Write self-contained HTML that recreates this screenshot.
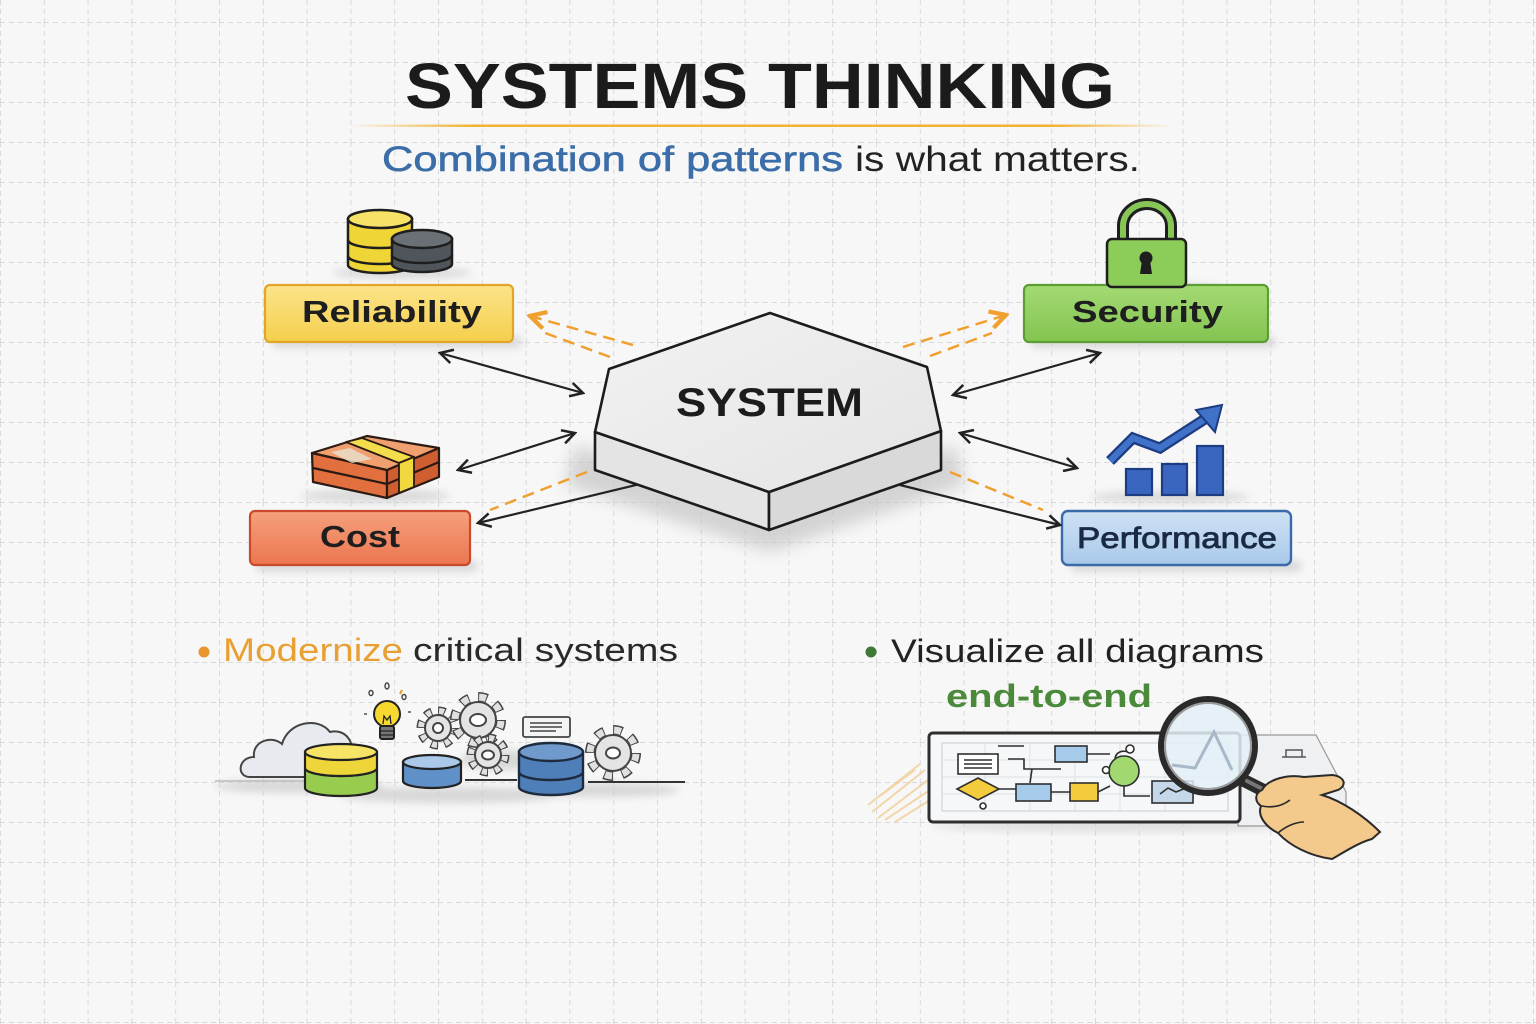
<!DOCTYPE html>
<html><head><meta charset="utf-8"><style>
html,body{margin:0;padding:0;background:#f7f7f7;}
svg{display:block;}
text{font-family:"Liberation Sans",Arial,sans-serif;}
</style></head><body>
<svg width="1536" height="1024" viewBox="0 0 1536 1024" xmlns="http://www.w3.org/2000/svg">
<defs>
  <pattern id="grid" x="0" y="22" width="43.8" height="40" patternUnits="userSpaceOnUse">
    <line x1="0.5" y1="0" x2="0.5" y2="40" stroke="#d9d9d9" stroke-width="1" stroke-dasharray="5 4"/>
    <line x1="0" y1="0.5" x2="43.8" y2="0.5" stroke="#d9d9d9" stroke-width="1" stroke-dasharray="5 4"/>
  </pattern>
  <linearGradient id="uline" x1="0" x2="1" y1="0" y2="0">
    <stop offset="0" stop-color="#f2b232" stop-opacity="0"/>
    <stop offset="0.15" stop-color="#f2b232"/>
    <stop offset="0.85" stop-color="#f2b232"/>
    <stop offset="1" stop-color="#f2b232" stop-opacity="0"/>
  </linearGradient>
  <linearGradient id="gY" x1="0" x2="0" y1="0" y2="1"><stop offset="0" stop-color="#fbe48a"/><stop offset="1" stop-color="#f5cf4c"/></linearGradient>
  <linearGradient id="gG" x1="0" x2="0" y1="0" y2="1"><stop offset="0" stop-color="#a4da74"/><stop offset="1" stop-color="#84c450"/></linearGradient>
  <linearGradient id="gR" x1="0" x2="0" y1="0" y2="1"><stop offset="0" stop-color="#f5a07c"/><stop offset="1" stop-color="#ec7650"/></linearGradient>
  <linearGradient id="gB" x1="0" x2="0" y1="0" y2="1"><stop offset="0" stop-color="#cfe2f5"/><stop offset="1" stop-color="#a9c9ea"/></linearGradient>
  <linearGradient id="hexTop" x1="0" x2="1" y1="0" y2="1"><stop offset="0" stop-color="#f2f2f2"/><stop offset="1" stop-color="#e4e4e4"/></linearGradient>
  <filter id="blur8" x="-30%" y="-30%" width="160%" height="160%"><feGaussianBlur stdDeviation="8"/></filter>
  <filter id="blur4" x="-30%" y="-30%" width="160%" height="160%"><feGaussianBlur stdDeviation="4"/></filter>
  <marker id="ah" viewBox="0 0 14 14" refX="12" refY="7" markerWidth="16" markerHeight="16" markerUnits="userSpaceOnUse" orient="auto-start-reverse">
    <path d="M1,1 L12,7 L1,13" fill="none" stroke="#222" stroke-width="2.2" stroke-linejoin="miter"/>
  </marker>
  <marker id="ao" viewBox="0 0 14 14" refX="12" refY="7" markerWidth="20" markerHeight="20" markerUnits="userSpaceOnUse" orient="auto">
    <path d="M1,1 L12,7 L1,13" fill="none" stroke="#f0a030" stroke-width="3"/>
  </marker>
</defs>

<rect width="1536" height="1024" fill="#f7f7f7"/>
<rect width="1536" height="1024" fill="url(#grid)"/>

<!-- Title -->
<text x="405" y="108" font-size="64" font-weight="bold" fill="#1b1b1b" textLength="710" lengthAdjust="spacingAndGlyphs">SYSTEMS THINKING</text>
<rect x="350" y="124.5" width="825" height="2.5" fill="url(#uline)"/>
<text x="382" y="171" font-size="35" fill="#3b6ea9" stroke="#3b6ea9" stroke-width="0.6" textLength="461" lengthAdjust="spacingAndGlyphs">Combination of patterns</text>
<text x="855" y="171" font-size="35" fill="#222" textLength="285" lengthAdjust="spacingAndGlyphs">is what matters.</text>

<!-- Box shadows -->
<g filter="url(#blur4)" fill="#cfcfcf" opacity="0.7">
  <rect x="272" y="336" width="250" height="12" rx="6"/>
  <rect x="1030" y="336" width="246" height="12" rx="6"/>
  <rect x="256" y="560" width="222" height="12" rx="6"/>
  <rect x="1070" y="560" width="232" height="12" rx="6"/>
  <ellipse cx="402" cy="273" rx="70" ry="6"/>
  <ellipse cx="1165" cy="288" rx="60" ry="5"/>
  <ellipse cx="375" cy="496" rx="75" ry="7"/>
  <ellipse cx="1170" cy="497" rx="80" ry="6"/>
</g>

<!-- Boxes -->
<rect x="265" y="285" width="248" height="57" rx="5" fill="url(#gY)" stroke="#e2a52a" stroke-width="2.2"/>
<rect x="1024" y="285" width="244" height="57" rx="5" fill="url(#gG)" stroke="#5b9e33" stroke-width="2.2"/>
<rect x="250" y="511" width="220" height="54" rx="5" fill="url(#gR)" stroke="#c94a2a" stroke-width="2.2"/>
<rect x="1062" y="511" width="229" height="54" rx="6" fill="url(#gB)" stroke="#3a6aa8" stroke-width="2.4"/>

<text x="302" y="322" font-size="31" font-weight="bold" fill="#1e1e1e" textLength="180" lengthAdjust="spacingAndGlyphs">Reliability</text>
<text x="1072" y="322" font-size="31" font-weight="bold" fill="#1e1e1e" textLength="151" lengthAdjust="spacingAndGlyphs">Security</text>
<text x="320" y="547" font-size="31" font-weight="bold" fill="#1e1e1e" textLength="80" lengthAdjust="spacingAndGlyphs">Cost</text>
<text x="1077" y="548" font-size="30" fill="#1b2a44" stroke="#1b2a44" stroke-width="0.8" textLength="200" lengthAdjust="spacingAndGlyphs">Performance</text>

<!-- Database icons (Reliability) -->
<g stroke="#1e1e1e" stroke-width="2.5">
  <path d="M348,219 L348,265 A32,8 0 0 0 412,265 L412,219 Z" fill="#f0d536"/>
  <path d="M348,240 A32,8 0 0 0 412,240" fill="none"/>
  <path d="M348,256 A32,8 0 0 0 412,256" fill="none"/>
  <ellipse cx="380" cy="219" rx="32" ry="9" fill="#f6e266"/>
  <path d="M392,239 L392,264 A30,8 0 0 0 452,264 L452,239 Z" fill="#50555b"/>
  <path d="M392,255 A30,8 0 0 0 452,255" fill="none"/>
  <ellipse cx="422" cy="239" rx="30" ry="9" fill="#6b7077"/>
</g>

<!-- Lock -->
<path d="M1123,241 L1123,226 A24,22 0 0 1 1171,226 L1171,241" fill="none" stroke="#1e1e1e" stroke-width="12"/>
<path d="M1123,241 L1123,226 A24,22 0 0 1 1171,226 L1171,241" fill="none" stroke="#86c656" stroke-width="6"/>
<rect x="1107" y="239" width="79" height="48" rx="5" fill="#8ccc58" stroke="#1e1e1e" stroke-width="2.5"/>
<circle cx="1146" cy="258" r="6.5" fill="#1e1e1e"/>
<path d="M1142,260 L1150,260 L1152,274 L1140,274 Z" fill="#1e1e1e"/>

<!-- Money stack -->
<g stroke="#2a1a14" stroke-width="2.2" stroke-linejoin="round">
  <polygon points="312,453 387,470 387,498 313,482" fill="#e2703e"/>
  <polygon points="387,470 439,448 439,477 387,498" fill="#cf5e30"/>
  <polygon points="312,453 367,436 439,448 387,470" fill="#f0a06e"/>
  <path d="M313,468 L387,484 L439,462" fill="none"/>
  <polygon points="346,442 362,438 414,457 399,463" fill="#f3dd4c" stroke-width="1.8"/>
  <polygon points="399,463 414,457 414,487 399,493" fill="#f0d83e" stroke-width="1.8"/>
  <polygon points="331,452 350,448 372,459 352,463" fill="#e8e2d0" stroke="none" opacity="0.8"/>
</g>

<!-- Chart -->
<g stroke="#1d3c82" stroke-width="2.2">
  <rect x="1126" y="469" width="26" height="26" fill="#3a66c0"/>
  <rect x="1162" y="464" width="25" height="31" fill="#3a66c0"/>
  <rect x="1197" y="446" width="26" height="49" fill="#3a66c0"/>
</g>
<polyline points="1110,461 1133,438 1160,448 1208,417" fill="none" stroke="#1d3c82" stroke-width="11" stroke-linejoin="miter"/>
<polyline points="1110,461 1133,438 1160,448 1208,417" fill="none" stroke="#3f72c8" stroke-width="6.5" stroke-linejoin="miter"/>
<polygon points="1222,405 1196,410 1215,432" fill="#3f72c8" stroke="#1d3c82" stroke-width="2"/>

<!-- Hexagon shadow -->
<polygon points="575,445 770,512 955,445 965,485 770,552 565,485" fill="#c4c4c4" opacity="0.7" filter="url(#blur8)"/>

<!-- Connectors -->
<g stroke="#222" stroke-width="2.2" fill="none">
  <line x1="440" y1="353" x2="583" y2="393" marker-start="url(#ah)" marker-end="url(#ah)"/>
  <line x1="458" y1="470" x2="575" y2="433" marker-start="url(#ah)" marker-end="url(#ah)"/>
  <line x1="640" y1="484" x2="478" y2="523" marker-end="url(#ah)"/>
  <line x1="953" y1="395" x2="1100" y2="353" marker-start="url(#ah)" marker-end="url(#ah)"/>
  <line x1="960" y1="433" x2="1077" y2="468" marker-start="url(#ah)" marker-end="url(#ah)"/>
  <line x1="900" y1="485" x2="1060" y2="525" marker-end="url(#ah)"/>
</g>
<g stroke="#f0a030" stroke-width="2.5" fill="none" stroke-dasharray="12 7">
  <line x1="633" y1="345" x2="530" y2="316" marker-end="url(#ao)"/>
  <line x1="610" y1="357" x2="545" y2="333"/>
  <line x1="903" y1="347" x2="1006" y2="315" marker-end="url(#ao)"/>
  <line x1="930" y1="356" x2="992" y2="333"/>
  <line x1="587" y1="472" x2="490" y2="510"/>
  <line x1="950" y1="472" x2="1043" y2="510"/>
</g>

<!-- Hexagon -->
<g stroke="#1c1c1c" stroke-width="2.6" stroke-linejoin="round">
  <polygon points="595,432 769,492 769,530 595,470" fill="#e4e4e4"/>
  <polygon points="769,492 941,431 941,470 769,530" fill="#d9d9d9"/>
  <polygon points="770,313 927,367 941,431 769,492 595,432 609,369" fill="url(#hexTop)"/>
</g>
<text x="676" y="416" font-size="40" font-weight="bold" fill="#1c1c1c" textLength="187" lengthAdjust="spacingAndGlyphs">SYSTEM</text>

<!-- Bottom left text -->
<circle cx="204" cy="652" r="5.5" fill="#e8962e"/>
<text x="223" y="661" font-size="32" fill="#e8a033" textLength="180" lengthAdjust="spacingAndGlyphs">Modernize</text>
<text x="413" y="661" font-size="32" fill="#2a2a2a" textLength="265" lengthAdjust="spacingAndGlyphs">critical systems</text>

<!-- Bottom left illustration -->
<g filter="url(#blur4)" fill="#cdcdcd" opacity="0.75">
  <ellipse cx="300" cy="786" rx="85" ry="7"/>
  <ellipse cx="450" cy="795" rx="110" ry="8"/>
  <ellipse cx="600" cy="790" rx="80" ry="7"/>
  <ellipse cx="500" cy="760" rx="40" ry="10"/>
</g>
<line x1="215" y1="781" x2="305" y2="781" stroke="#bbb" stroke-width="1.5"/>
<line x1="465" y1="780" x2="517" y2="780" stroke="#333" stroke-width="2"/>
<line x1="588" y1="782" x2="685" y2="782" stroke="#333" stroke-width="2"/>
<!-- cloud -->
<path d="M250,777 C236,777 238,757 254,757 C252,741 272,735 282,744 C288,722 318,716 330,732 C346,728 356,744 350,756 C358,760 356,777 346,777 Z" fill="#e7ebf0" stroke="#444" stroke-width="2"/>
<!-- yellow/green cylinder -->
<g stroke="#222" stroke-width="2.2">
  <path d="M305,768 L305,788 A36,8 0 0 0 377,788 L377,768 A36,8 0 0 1 305,768 Z" fill="#98cc4e"/>
  <path d="M305,752 L305,768 A36,8 0 0 0 377,768 L377,752 Z" fill="#eed63a"/>
  <ellipse cx="341" cy="752" rx="36" ry="8" fill="#f6e466"/>
</g>
<!-- bulb -->
<g stroke="#222" stroke-width="2">
  <circle cx="387" cy="714" r="13" fill="#f6d830"/>
  <rect x="380" y="726" width="14" height="13" rx="2" fill="#777"/>
  <line x1="380" y1="731" x2="394" y2="731" stroke-width="1.2"/>
  <line x1="380" y1="735" x2="394" y2="735" stroke-width="1.2"/>
  <path d="M383,724 L384,716 L387,720 L390,716 L391,724" fill="none" stroke-width="1.3"/>
</g>
<g fill="none" stroke="#444" stroke-width="1.4">
  <ellipse cx="371" cy="693" rx="2" ry="2.5"/>
  <ellipse cx="387" cy="686" rx="2" ry="3"/>
  <ellipse cx="404" cy="697" rx="2" ry="2.5"/>
  <line x1="400" y1="694" x2="402" y2="690" stroke="#e0a020" stroke-width="2"/>
  <line x1="364" y1="714" x2="367" y2="714"/>
  <line x1="408" y1="712" x2="411" y2="712"/>
</g>
<!-- small blue cylinder -->
<g stroke="#222" stroke-width="2.2">
  <path d="M403,762 L403,781 A29,7 0 0 0 461,781 L461,762 Z" fill="#5f90c8"/>
  <ellipse cx="432" cy="762" rx="29" ry="7" fill="#a9c8ea"/>
</g>
<!-- gears -->
<g>
  <circle cx="438" cy="728" r="17" fill="none" stroke="#444" stroke-width="9" stroke-dasharray="7 6.35"/>
  <circle cx="438" cy="728" r="17" fill="none" stroke="#e0e0e0" stroke-width="6" stroke-dasharray="5 8.35" stroke-dashoffset="-1"/>
  <circle cx="438" cy="728" r="13" fill="#e4e4e4" stroke="#444" stroke-width="2"/>
  <circle cx="438" cy="728" r="5" fill="#fff" stroke="#444" stroke-width="2"/>

  <circle cx="478" cy="720" r="23" fill="none" stroke="#444" stroke-width="10" stroke-dasharray="9 9.06"/>
  <circle cx="478" cy="720" r="23" fill="none" stroke="#e0e0e0" stroke-width="7" stroke-dasharray="7 11.06" stroke-dashoffset="-1"/>
  <circle cx="478" cy="720" r="18" fill="#e4e4e4" stroke="#444" stroke-width="2"/>
  <ellipse cx="478" cy="720" rx="8" ry="6" fill="#fff" stroke="#444" stroke-width="2"/>

  <circle cx="488" cy="755" r="17" fill="none" stroke="#444" stroke-width="9" stroke-dasharray="7 6.35"/>
  <circle cx="488" cy="755" r="17" fill="none" stroke="#e0e0e0" stroke-width="6" stroke-dasharray="5 8.35" stroke-dashoffset="-1"/>
  <circle cx="488" cy="755" r="13" fill="#e4e4e4" stroke="#444" stroke-width="2"/>
  <ellipse cx="488" cy="755" rx="6" ry="4.5" fill="#fff" stroke="#444" stroke-width="2"/>

  <circle cx="613" cy="753" r="23" fill="none" stroke="#444" stroke-width="10" stroke-dasharray="9 9.06"/>
  <circle cx="613" cy="753" r="23" fill="none" stroke="#e0e0e0" stroke-width="7" stroke-dasharray="7 11.06" stroke-dashoffset="-1"/>
  <circle cx="613" cy="753" r="18" fill="#e4e4e4" stroke="#444" stroke-width="2"/>
  <ellipse cx="613" cy="753" rx="7" ry="5.5" fill="#fff" stroke="#444" stroke-width="2"/>
</g>
<!-- note card -->
<rect x="523" y="717" width="47" height="20" rx="2" fill="#f4f4f4" stroke="#444" stroke-width="1.8"/>
<g stroke="#444" stroke-width="1.5"><line x1="530" y1="723" x2="562" y2="723"/><line x1="530" y1="727" x2="562" y2="727"/><line x1="530" y1="731" x2="556" y2="731"/></g>
<!-- big blue cylinder -->
<g stroke="#1e2a3e" stroke-width="2.4">
  <path d="M519,752 L519,787 A32,8 0 0 0 583,787 L583,752 Z" fill="#4f7fb8"/>
  <path d="M519,772 A32,8 0 0 0 583,772" fill="none"/>
  <ellipse cx="551" cy="752" rx="32" ry="9" fill="#6f9acb"/>
</g>

<!-- Bottom right text -->
<circle cx="871" cy="652" r="5.5" fill="#3d7a34"/>
<text x="891" y="662" font-size="32" fill="#222" textLength="373" lengthAdjust="spacingAndGlyphs">Visualize all diagrams</text>
<text x="946" y="707" font-size="32" font-weight="bold" fill="#4a8a3a" textLength="206" lengthAdjust="spacingAndGlyphs">end-to-end</text>

<!-- Bottom right illustration -->
<g stroke="#f0c888" stroke-width="2" opacity="0.7">
  <line x1="872" y1="812" x2="925" y2="770"/><line x1="878" y1="818" x2="928" y2="780"/>
  <line x1="868" y1="805" x2="920" y2="764"/><line x1="885" y1="820" x2="930" y2="790"/>
  <line x1="895" y1="822" x2="930" y2="800"/><line x1="880" y1="796" x2="915" y2="770"/>
</g>
<ellipse cx="1110" cy="826" rx="180" ry="6" fill="#cfcfcf" opacity="0.6" filter="url(#blur4)"/>
<polygon points="1238,735 1316,735 1346,792 1346,826 1238,826" fill="#eef0f2" stroke="#999" stroke-width="1.2"/>
<line x1="1282" y1="757" x2="1306" y2="757" stroke="#555" stroke-width="1.5"/>
<path d="M1286,757 L1286,750 L1302,750 L1302,757" fill="none" stroke="#555" stroke-width="1.5"/>
<rect x="929" y="733" width="311" height="89" rx="4" fill="#f5f7f9" stroke="#2e2e2e" stroke-width="3"/>
<rect x="942" y="743" width="286" height="68" fill="none" stroke="#c8ccd0" stroke-width="1"/>
<g stroke="#d8dce0" stroke-width="0.8">
  <line x1="942" y1="760" x2="1228" y2="760"/><line x1="942" y1="777" x2="1228" y2="777"/><line x1="942" y1="794" x2="1228" y2="794"/>
  <line x1="985" y1="743" x2="985" y2="811"/><line x1="1030" y1="743" x2="1030" y2="811"/><line x1="1075" y1="743" x2="1075" y2="811"/><line x1="1120" y1="743" x2="1120" y2="811"/><line x1="1165" y1="743" x2="1165" y2="811"/>
</g>
<g stroke="#2e2e2e" stroke-width="1.6" fill="none">
  <rect x="958" y="754" width="40" height="20" fill="#fff"/>
  <line x1="964" y1="760" x2="992" y2="760"/><line x1="964" y1="764" x2="992" y2="764"/><line x1="964" y1="768" x2="992" y2="768"/>
  <line x1="998" y1="746" x2="1024" y2="746"/>
  <polyline points="1008,759 1024,759 1024,769 1061,769"/>
  <line x1="1032" y1="769" x2="1030" y2="783"/>
  <rect x="1055" y="746" width="32" height="16" fill="#a6cbea"/>
  <line x1="1087" y1="754" x2="1110" y2="754"/>
  <path d="M1115,760 C1115,752 1122,750 1128,752"/>
  <circle cx="1130" cy="749" r="4" fill="#fff"/>
  <circle cx="1124" cy="771" r="15" fill="#a2d870"/>
  <circle cx="1106" cy="770" r="3.5" fill="#fff"/>
  <polygon points="978,778 999,789 978,800 957,789" fill="#f2cc3c"/>
  <circle cx="983" cy="806" r="3" fill="#fff"/>
  <line x1="999" y1="789" x2="1016" y2="789"/>
  <rect x="1016" y="784" width="35" height="17" fill="#a6cbea"/>
  <line x1="1051" y1="792" x2="1070" y2="792"/>
  <rect x="1070" y="783" width="28" height="18" fill="#f2cc3c"/>
  <line x1="1098" y1="792" x2="1110" y2="786"/>
  <polyline points="1124,786 1124,796 1150,796"/>
  <rect x="1152" y="781" width="41" height="22" fill="#c4d8ea"/>
  <polyline points="1160,794 1168,788 1176,792 1186,788"/>
</g>
<!-- magnifier -->
<line x1="1243" y1="780" x2="1306" y2="812" stroke="#2a2a2a" stroke-width="13" stroke-linecap="round"/>
<line x1="1247" y1="781" x2="1302" y2="809" stroke="#777" stroke-width="4" stroke-linecap="round"/>
<circle cx="1208" cy="746" r="46" fill="#e2eef7" fill-opacity="0.85"/>
<polyline points="1172,765 1195,768 1214,732 1232,770" fill="none" stroke="#a8b8c8" stroke-width="3"/>
<circle cx="1208" cy="746" r="47" fill="none" stroke="#2a2a2a" stroke-width="6"/>
<circle cx="1208" cy="746" r="43" fill="none" stroke="#9a9a9a" stroke-width="2"/>
<!-- hand -->
<path d="M1262,790 C1268,779 1288,774 1304,777 L1332,775 C1344,776 1348,785 1338,790 L1322,795 C1342,801 1364,816 1380,832 L1372,839 C1360,842 1346,851 1332,859 C1310,856 1290,846 1278,833 C1266,827 1257,816 1261,806 C1254,801 1255,793 1262,790 Z" fill="#f4c98c" stroke="#2a2a2a" stroke-width="2"/>
<path d="M1262,806 C1272,808 1282,806 1290,800" fill="none" stroke="#2a2a2a" stroke-width="1.6"/>
<path d="M1278,833 C1286,826 1296,822 1304,822" fill="none" stroke="#2a2a2a" stroke-width="1.6"/>

</svg>
</body></html>
